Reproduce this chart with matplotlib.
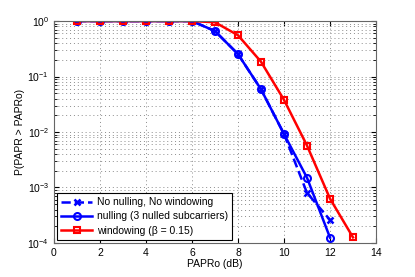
import matplotlib.pyplot as plt

plt.rcParams['font.family'] = ['Liberation Sans', 'DejaVu Sans']

papr0 = [1, 2, 3, 4, 5, 6, 7, 8, 9, 10, 11, 12]
ccdf_plain = [1, 1, 1, 1, 1, 1, 0.66, 0.254, 0.059, 0.0092, 8.0e-4, 2.6e-4]
ccdf_null = [1, 1, 1, 1, 1, 1, 0.66, 0.254, 0.059, 0.0092, 0.0015, 1.25e-4]
papr0_win = [1, 2, 3, 4, 5, 6, 7, 8, 9, 10, 11, 12, 13]
ccdf_win = [1, 1, 1, 1, 1, 1, 0.95, 0.555, 0.185, 0.038, 0.0057, 6.3e-4, 1.26e-4]

fig = plt.figure(figsize=(4.15, 2.77), dpi=100)
ax = fig.add_axes([0.130, 0.123, 0.776, 0.801])

ax.semilogy(papr0, ccdf_plain, '--', color='blue', lw=1.8, marker='x',
            ms=5, mew=1.8, label='No nulling, No windowing')
ax.semilogy(papr0, ccdf_null, '-', color='blue', lw=1.8, marker='o',
            ms=5, mfc='none', mew=1.5, label='nulling (3 nulled subcarriers)')
ax.semilogy(papr0_win, ccdf_win, '-', color='red', lw=1.8, marker='s',
            ms=5, mfc='none', mew=1.5, label='windowing (\u03b2 = 0.15)')

ax.set_xlim(0, 14)
ax.set_ylim(1e-4, 1)
ax.set_xticks(range(0, 15, 2))
ax.grid(True, which='major', ls=(0, (1, 3)), color='0.55', lw=0.7)
ax.yaxis.grid(True, which='minor', ls=(0, (1, 3)), color='0.55', lw=0.7)
ax.tick_params(labelsize=7.5, direction='in', which='both', top=True, right=True)
ax.set_xlabel('PAPRo (dB)', fontsize=7.5, labelpad=1)
ax.set_ylabel('P(PAPR > PAPRo)', fontsize=7.5, labelpad=2)
for s in ax.spines.values():
    s.set_color('0.4')

leg = ax.legend(loc='lower left', fontsize=7.5, fancybox=False, framealpha=1,
                edgecolor='black', borderaxespad=0.3, handlelength=3,
                labelspacing=0.4, borderpad=0.4, handletextpad=0.4)
leg.get_frame().set_linewidth(0.8)

fig.savefig('out.png', dpi=100)
